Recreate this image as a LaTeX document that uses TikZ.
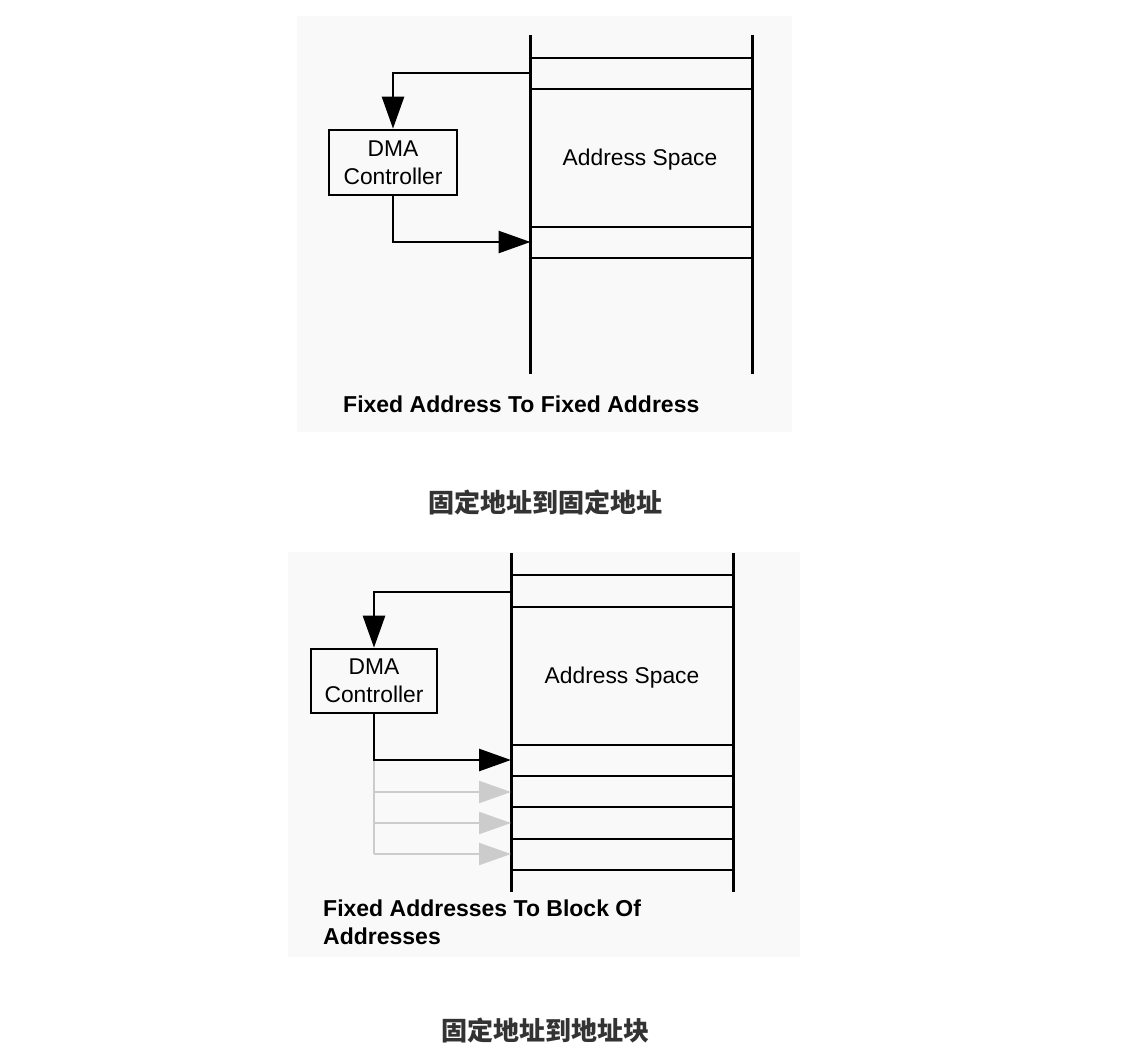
\documentclass[tikz,border=0pt]{standalone}
\usepackage{fontspec}
\setmainfont{Liberation Sans}
\newfontfamily\cjk{Noto Sans CJK SC}
\usetikzlibrary{arrows.meta}
\definecolor{panelbg}{RGB}{249,249,249}
\definecolor{ghost}{RGB}{204,204,204}
\definecolor{captxt}{RGB}{51,51,51}
\begin{document}
\begin{tikzpicture}[x=1pt,y=-1pt,
  wall/.style={line width=3pt},
  slot/.style={line width=2.7pt},
  conn/.style={line width=2.7pt,-{Triangle[length=32pt,width=22pt]}},
  ghostline/.style={line width=2.3pt,draw=ghost},
  ghostconn/.style={line width=2.3pt,draw=ghost,-{Triangle[length=32pt,width=22pt,fill=ghost]}},
  dmabox/.style={draw,line width=2.7pt,minimum width=126pt,minimum height=64pt,align=center,inner sep=0pt,font=\fontsize{22.8}{28}\selectfont},
  spacelabel/.style={font=\fontsize{22.8}{26}\selectfont},
  engcap/.style={font=\fontsize{23}{28}\selectfont\bfseries,align=left,inner sep=0pt},
  cjkcap/.style={text=captxt,font=\cjk\fontsize{26}{30}\selectfont\bfseries}
]
\useasboundingbox (0,0) rectangle (1136,1055);
\fill[white] (0,0) rectangle (1136,1055);

% ---------- top panel ----------
\fill[panelbg] (297,16) rectangle (792,432);
\draw[wall] (530.5,35) -- (530.5,374);
\draw[wall] (752,35) -- (752,374);
\foreach \yy in {58,89,227,258} \draw[slot] (530.5,\yy) -- (752,\yy);
\node[dmabox,minimum width=128pt,minimum height=65pt] (dma1) at (393,162.5) {DMA\\Controller};
\node[spacelabel] (as1) at (640,160) {Address Space};
\coordinate (src1) at (530.5,73);
\coordinate (dst1) at (530.5,242);
\draw[conn] (src1) -| (dma1.north);
\draw[conn] (dma1.south) |- (dst1);
\node[engcap,anchor=west] (cap1) at (343,404) {Fixed Address To Fixed Address};
\node[cjkcap] (zh1) at (545,502) {固定地址到固定地址};

% ---------- bottom panel ----------
\fill[panelbg] (288,552) rectangle (800,957);
\draw[wall] (511,553) -- (511,892);
\draw[wall] (733,553) -- (733,892);
\foreach \yy in {575,607,745,776,807,839,870} \draw[slot] (511,\yy) -- (733,\yy);
\node[dmabox] (dma2) at (374,681) {DMA\\Controller};
\node[spacelabel] (as2) at (622,678) {Address Space};
\coordinate (src2) at (511,592);
\coordinate (dst2) at (511,760);
\coordinate (g1) at (511,792);
\coordinate (g2) at (511,823);
\coordinate (g3) at (511,854);
\draw[ghostline] (dma2.south |- dst2) -- (dma2.south |- g3);
\draw[ghostconn] (dma2.south |- g1) -- (g1);
\draw[ghostconn] (dma2.south |- g2) -- (g2);
\draw[ghostconn] (dma2.south |- g3) -- (g3);
\draw[conn] (src2) -| (dma2.north);
\draw[conn] (dma2.south) |- (dst2);
\node[engcap,anchor=west] (cap2) at (323,922) {Fixed Addresses To Block Of\\Addresses};
\node[cjkcap] (zh2) at (545,1030) {固定地址到地址块};
\end{tikzpicture}
\end{document}
